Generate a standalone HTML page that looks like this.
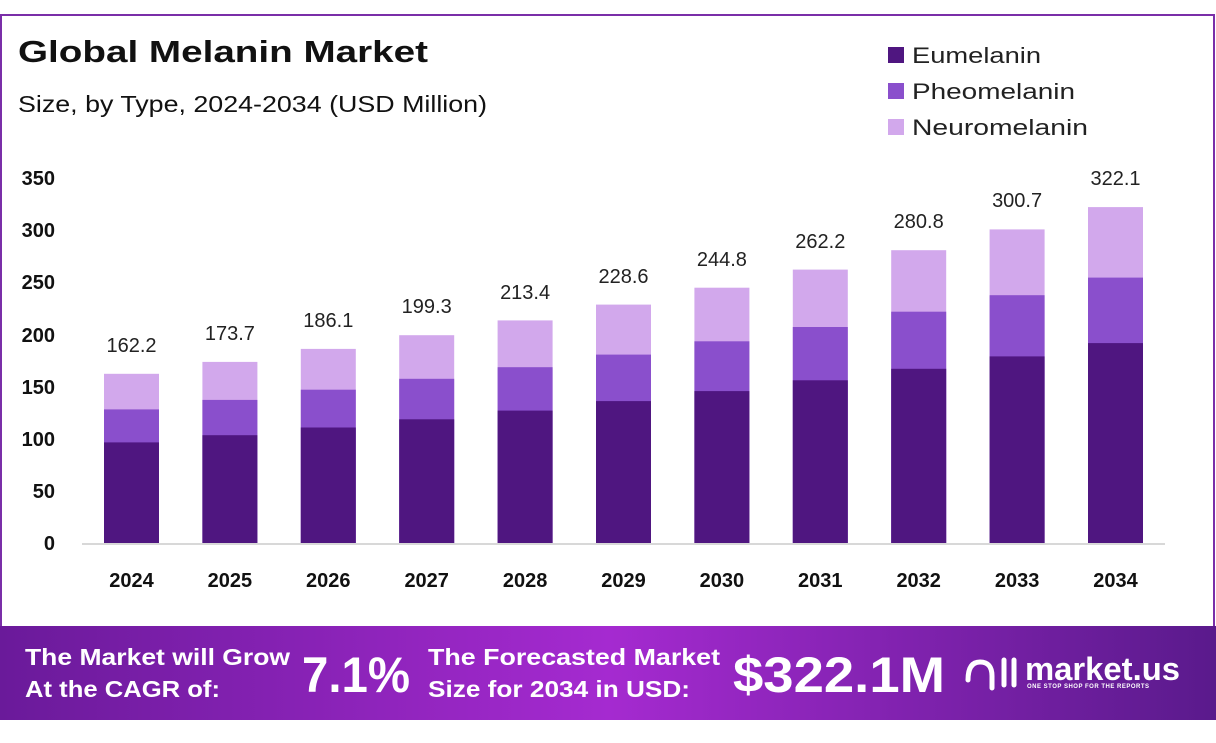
<!DOCTYPE html>
<html><head><meta charset="utf-8"><style>
body{margin:0;width:1216px;height:738px;background:#fff;overflow:hidden;font-family:"Liberation Sans",sans-serif}
</style></head><body>
<svg width="1216" height="738" xmlns="http://www.w3.org/2000/svg" font-family="Liberation Sans, sans-serif">
<defs>
<linearGradient id="bg" x1="0" x2="1" y1="0" y2="0">
<stop offset="0" stop-color="#6a1a9a"/><stop offset="0.5" stop-color="#a52ad0"/><stop offset="1" stop-color="#5a1a8c"/>
</linearGradient>
</defs>
<rect x="1" y="15" width="1213" height="612" fill="#fff" stroke="#7a2ea8" stroke-width="2"/>
<text x="18" y="62" font-size="31" font-weight="bold" fill="#111" textLength="410" lengthAdjust="spacingAndGlyphs">Global Melanin Market</text>
<text x="18" y="112" font-size="23" fill="#111" textLength="469" lengthAdjust="spacingAndGlyphs">Size, by Type, 2024-2034 (USD Million)</text>
<rect x="888" y="47" width="16" height="16" fill="#4f1680"/><text x="912" y="63" font-size="22" fill="#222" textLength="129" lengthAdjust="spacingAndGlyphs">Eumelanin</text>
<rect x="888" y="83" width="16" height="16" fill="#8a4fcc"/><text x="912" y="99" font-size="22" fill="#222" textLength="163" lengthAdjust="spacingAndGlyphs">Pheomelanin</text>
<rect x="888" y="119" width="16" height="16" fill="#d2a8ec"/><text x="912" y="135" font-size="22" fill="#222" textLength="176" lengthAdjust="spacingAndGlyphs">Neuromelanin</text>
<g font-size="20" font-weight="bold" fill="#111" text-anchor="end">
<text x="55" y="550">0</text><text x="55" y="498">50</text><text x="55" y="446">100</text><text x="55" y="394">150</text><text x="55" y="342">200</text><text x="55" y="289">250</text><text x="55" y="237">300</text><text x="55" y="185">350</text>
</g>
<line x1="82" y1="544" x2="1165" y2="544" stroke="#ccc" stroke-width="1.5"/>
<g>
<rect x="104" y="373.8" width="55" height="169.2" fill="#d2a8ec"/><rect x="104" y="409.4" width="55" height="133.6" fill="#8a4fcc"/><rect x="104" y="442.4" width="55" height="100.6" fill="#4f1680"/>
<rect x="202.4" y="361.9" width="55" height="181.1" fill="#d2a8ec"/><rect x="202.4" y="399.9" width="55" height="143.1" fill="#8a4fcc"/><rect x="202.4" y="435.2" width="55" height="107.8" fill="#4f1680"/>
<rect x="300.8" y="348.9" width="55" height="194.1" fill="#d2a8ec"/><rect x="300.8" y="389.7" width="55" height="153.3" fill="#8a4fcc"/><rect x="300.8" y="427.5" width="55" height="115.5" fill="#4f1680"/>
<rect x="399.2" y="335.2" width="55" height="207.8" fill="#d2a8ec"/><rect x="399.2" y="378.8" width="55" height="164.2" fill="#8a4fcc"/><rect x="399.2" y="419.3" width="55" height="123.7" fill="#4f1680"/>
<rect x="497.6" y="320.4" width="55" height="222.6" fill="#d2a8ec"/><rect x="497.6" y="367.2" width="55" height="175.8" fill="#8a4fcc"/><rect x="497.6" y="410.6" width="55" height="132.4" fill="#4f1680"/>
<rect x="596" y="304.6" width="55" height="238.4" fill="#d2a8ec"/><rect x="596" y="354.6" width="55" height="188.4" fill="#8a4fcc"/><rect x="596" y="401.1" width="55" height="141.9" fill="#4f1680"/>
<rect x="694.4" y="287.7" width="55" height="255.3" fill="#d2a8ec"/><rect x="694.4" y="341.3" width="55" height="201.7" fill="#8a4fcc"/><rect x="694.4" y="391.1" width="55" height="151.9" fill="#4f1680"/>
<rect x="792.8" y="269.6" width="55" height="273.4" fill="#d2a8ec"/><rect x="792.8" y="327" width="55" height="216" fill="#8a4fcc"/><rect x="792.8" y="380.3" width="55" height="162.7" fill="#4f1680"/>
<rect x="891.2" y="250.2" width="55" height="292.8" fill="#d2a8ec"/><rect x="891.2" y="311.7" width="55" height="231.3" fill="#8a4fcc"/><rect x="891.2" y="368.8" width="55" height="174.2" fill="#4f1680"/>
<rect x="989.6" y="229.4" width="55" height="313.6" fill="#d2a8ec"/><rect x="989.6" y="295.2" width="55" height="247.8" fill="#8a4fcc"/><rect x="989.6" y="356.4" width="55" height="186.6" fill="#4f1680"/>
<rect x="1088" y="207.1" width="55" height="335.9" fill="#d2a8ec"/><rect x="1088" y="277.6" width="55" height="265.4" fill="#8a4fcc"/><rect x="1088" y="343.1" width="55" height="199.9" fill="#4f1680"/>
</g>
<g font-size="20" fill="#222" text-anchor="middle">
<text x="131.5" y="352">162.2</text><text x="229.9" y="340">173.7</text><text x="328.3" y="327">186.1</text><text x="426.7" y="313">199.3</text><text x="525.1" y="299">213.4</text><text x="623.5" y="283">228.6</text><text x="721.9" y="266">244.8</text><text x="820.3" y="248">262.2</text><text x="918.7" y="228">280.8</text><text x="1017.1" y="207">300.7</text><text x="1115.5" y="185">322.1</text>
</g>
<g font-size="20" font-weight="bold" fill="#111" text-anchor="middle">
<text x="131.5" y="587">2024</text><text x="229.9" y="587">2025</text><text x="328.3" y="587">2026</text><text x="426.7" y="587">2027</text><text x="525.1" y="587">2028</text><text x="623.5" y="587">2029</text><text x="721.9" y="587">2030</text><text x="820.3" y="587">2031</text><text x="918.7" y="587">2032</text><text x="1017.1" y="587">2033</text><text x="1115.5" y="587">2034</text>
</g>
<rect x="0" y="626" width="1216" height="94" fill="url(#bg)"/>
<g fill="#fff" font-weight="bold">
<text x="25" y="665" font-size="23" textLength="265" lengthAdjust="spacingAndGlyphs">The Market will Grow</text>
<text x="25" y="697" font-size="23" textLength="195" lengthAdjust="spacingAndGlyphs">At the CAGR of:</text>
<text x="302" y="692" font-size="50" textLength="108" lengthAdjust="spacingAndGlyphs">7.1%</text>
<text x="428" y="665" font-size="23" textLength="292" lengthAdjust="spacingAndGlyphs">The Forecasted Market</text>
<text x="428" y="697" font-size="23" textLength="262" lengthAdjust="spacingAndGlyphs">Size for 2034 in USD:</text>
<text x="733" y="692" font-size="50" textLength="212" lengthAdjust="spacingAndGlyphs">$322.1M</text>
<text x="1025" y="680" font-size="32" textLength="155" lengthAdjust="spacingAndGlyphs">market.us</text>
<text x="1027" y="688" font-size="6" letter-spacing="0.5">ONE STOP SHOP FOR THE REPORTS</text>
</g>
<g fill="none" stroke="#fff" stroke-width="5" stroke-linecap="round">
<path d="M968 680 q0 -18 12 -18 q12 0 12 14 v12"/><path d="M1004 660 v25"/><path d="M1014 660 v25"/>
</g>
</svg>
</body></html>
